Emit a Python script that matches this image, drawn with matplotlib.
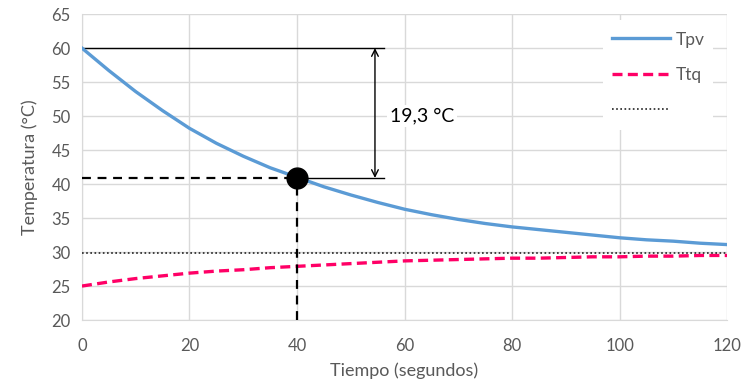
import matplotlib
matplotlib.use("Agg")
import matplotlib.pyplot as plt
from matplotlib.patches import Rectangle

plt.rcParams['font.family'] = ['Lato', 'DejaVu Sans']

t = [0, 5, 10, 15, 20, 25, 30, 35, 40, 45, 50, 55, 60, 65, 70, 75, 80, 85, 90, 95, 100, 105, 110, 115, 120]
tpv = [60, 56.7, 53.6, 50.8, 48.2, 46.0, 44.1, 42.4, 41.0, 39.6, 38.4, 37.3, 36.3, 35.5, 34.8, 34.2,
       33.7, 33.3, 32.9, 32.5, 32.1, 31.8, 31.6, 31.3, 31.1]
ttq = [25, 25.6, 26.1, 26.5, 26.9, 27.2, 27.4, 27.7, 27.9, 28.1, 28.3, 28.5, 28.7, 28.8, 28.9, 29.0,
       29.1, 29.1, 29.2, 29.3, 29.3, 29.4, 29.4, 29.5, 29.5]
t_eq = 29.8
t_start = 60
t_mark = 40
T_mark = 40.9
delta_label = "19,3 °C"
x_ticks = [0, 20, 40, 60, 80, 100, 120]
y_ticks = [20, 25, 30, 35, 40, 45, 50, 55, 60, 65]

gray = '#595959'
fig = plt.figure(figsize=(7.45, 3.81), dpi=100)
ax = fig.add_axes([0.110, 0.160, 0.866, 0.803])

ax.plot(t, tpv, color='#5B9BD5', lw=2.4, label='Tpv', zorder=3)
ax.plot(t, ttq, color='#FF0066', lw=2.4, ls=(0, (3, 1.6)), label='Ttq', zorder=3)
ax.axhline(t_eq, color='#222222', lw=1.2, ls=(0, (1, 1.5)), label=' ', zorder=3)

# reference lines
ax.plot([0, 56.2], [t_start, t_start], color='black', lw=1, zorder=2)
ax.plot([t_mark, 56.2], [T_mark, T_mark], color='black', lw=1, zorder=2)
ax.plot([0, t_mark], [T_mark, T_mark], color='black', lw=1.6, ls=(0, (4, 3)), zorder=4)
ax.plot([t_mark, t_mark], [20, T_mark], color='black', lw=1.6, ls=(0, (4, 3)), zorder=4)
ax.plot([t_mark], [T_mark], 'o', color='black', ms=15, zorder=5)
ax.annotate('', xy=(54.5, t_start), xytext=(54.5, T_mark),
            arrowprops=dict(arrowstyle='<->', color='black', lw=1, shrinkA=0, shrinkB=0,
                            mutation_scale=12), zorder=4)
ax.text(57.3, 50, delta_label, fontsize=14, color='black', va='center', ha='left',
        bbox=dict(facecolor='white', edgecolor='none', pad=2), zorder=4)

ax.set_xlim(0, 120)
ax.set_ylim(20, 65)
ax.set_xticks(x_ticks)
ax.set_yticks(y_ticks)
ax.grid(True, color='#D9D9D9', lw=1)
ax.set_axisbelow(True)
for s in ['top', 'right']:
    ax.spines[s].set_visible(False)
for s in ['left', 'bottom']:
    ax.spines[s].set_color('#D9D9D9')
ax.tick_params(length=0, labelsize=12, colors=gray, pad=8)
ax.tick_params(axis='x', pad=13)
ax.set_xlabel('Tiempo (segundos)', fontsize=13, color=gray, labelpad=6)
ax.set_ylabel('Temperatura (°C)', fontsize=13, color=gray, labelpad=10)

# legend background box
ax.add_patch(Rectangle((0.808, 0.621), 0.170, 0.359, transform=ax.transAxes,
                       facecolor='white', edgecolor='none', zorder=2.5))
leg = ax.legend(loc='upper left', bbox_to_anchor=(0.822, 0.943), frameon=False, fontsize=12.5,
                handlelength=3.35, handletextpad=0.3, labelspacing=1.1, borderpad=0,
                borderaxespad=0)
for txt in leg.get_texts():
    txt.set_color(gray)

fig.savefig('out.png', dpi=100)
